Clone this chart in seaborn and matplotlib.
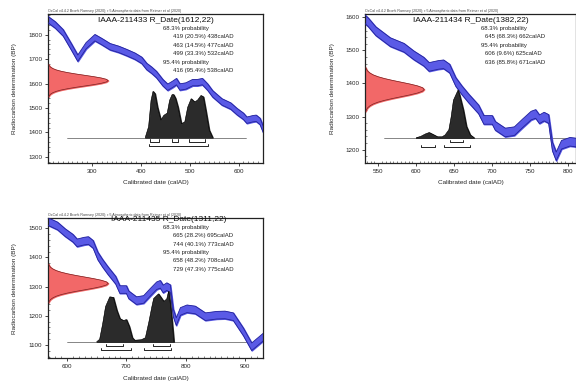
import numpy as np
import pandas as pd
import seaborn as sns
import matplotlib.pyplot as plt
from matplotlib.ticker import MultipleLocator

# calibration curve (calAD -> BP)
curve_year = [205, 210, 225, 241, 258, 271, 288, 306, 320, 337, 355, 371, 388, 402, 412, 422,
              432, 445, 455, 465, 473, 480, 492, 506, 516, 526, 537, 547, 566, 584, 597, 610,
              617, 629, 636, 644, 652, 660, 669, 682, 689, 700, 704, 717, 729, 740, 751, 757,
              762, 768, 774, 779, 784, 791, 802, 816, 833, 852, 866, 880, 897, 911, 935]
curve_bp = [1870, 1862, 1840, 1808, 1750, 1704, 1755, 1788, 1772, 1751, 1740, 1727, 1712, 1695,
            1670, 1655, 1637, 1604, 1585, 1597, 1608, 1586, 1590, 1604, 1604, 1608, 1585, 1558,
            1525, 1508, 1485, 1466, 1450, 1456, 1458, 1445, 1405, 1380, 1355, 1322, 1290, 1290,
            1272, 1252, 1256, 1280, 1303, 1308, 1292, 1300, 1293, 1210, 1180, 1215, 1224, 1220,
            1197, 1202, 1203, 1197, 1145, 1094, 1135]
curve_err = [13] * len(curve_year)

lab_codes = ['IAAA-211433', 'IAAA-211434', 'IAAA-211435']
c14_age = [1612, 1382, 1311]
c14_err = [22, 22, 22]

# measurement shape: relative height at steps of one sigma / 4
sigma_step = [-3, -2.75, -2.5, -2.25, -2, -1.75, -1.5, -1.25, -1, -0.75, -0.5, -0.25,
              0, 0.25, 0.5, 0.75, 1, 1.25, 1.5, 1.75, 2, 2.25, 2.5, 2.75, 3]
sigma_height = [0.011, 0.023, 0.044, 0.080, 0.135, 0.216, 0.325, 0.458, 0.607, 0.755,
                0.882, 0.969, 1.0, 0.969, 0.882, 0.755, 0.607, 0.458, 0.325, 0.216, 0.135, 0.080,
                0.044, 0.023, 0.011]

# calibrated (posterior) distributions, relative probability
post1_year = [409, 416, 421, 425, 429, 434, 441, 447, 454, 459, 464, 467, 471, 476, 483,
              490, 496, 503, 510, 516, 523, 528, 533, 540, 547]
post1_prob = [0, 0.24, 0.81, 1.0, 0.95, 0.66, 0.38, 0.48, 0.53, 0.81, 0.93, 0.93, 0.85, 0.66, 0.30,
              0.34, 0.66, 0.84, 0.77, 0.81, 0.91, 0.88, 0.59, 0.16, 0]
post2_year = [600, 606, 612, 617, 622, 628, 634, 638, 643, 646, 649, 655, 657, 662, 666, 671, 676]
post2_prob = [0, 0.03, 0.08, 0.11, 0.07, 0.02, 0.02, 0.06, 0.17, 0.44, 0.79, 1.0, 0.90, 0.58, 0.24,
              0.06, 0]
post3_year = [650, 655, 660, 665, 672, 678, 684, 689, 695, 700, 705, 710, 714, 725, 732, 738,
              743, 746, 754, 763, 768, 771, 774, 777, 780]
post3_prob = [0, 0.05, 0.35, 0.70, 0.89, 0.88, 0.62, 0.46, 0.42, 0.44, 0.30, 0.08, 0.03, 0.04, 0.08,
              0.40, 0.70, 0.86, 0.95, 0.80, 0.85, 1.0, 0.75, 0.40, 0]

ranges68 = [[(419, 20.5, 438), (463, 14.5, 477), (499, 33.3, 532)],
            [(645, 68.3, 662)],
            [(665, 28.2, 695), (744, 40.1, 773)]]
ranges95 = [[(416, 95.4, 538)],
            [(606, 9.6, 625), (636, 85.8, 671)],
            [(658, 48.2, 708), (729, 47.3, 775)]]
posteriors = [(post1_year, post1_prob), (post2_year, post2_prob), (post3_year, post3_prob)]

header = 'OxCal v4.4.2 Bronk Ramsey (2020); r:5 Atmospheric data from Reimer et al (2020)'

# layout per panel
panels = [
    dict(rect=[0.0833, 0.580, 0.3733, 0.384], xlim=(210, 650), ylim=(1275, 1885), xmaj=100, xmin=10,
         base=1379, line=(0.09, 0.92), hfrac=0.31, tx=0.50, ty=6.5, hx=0.535, rx=0.58, off0=14.5,
         step=8.5),
    dict(rect=[0.634, 0.580, 0.366, 0.384], xlim=(533, 810), ylim=(1160, 1610), xmaj=50, xmin=5,
         base=1236, line=(0.09, 1.0), hfrac=0.32, tx=0.50, ty=6.5, hx=0.55, rx=0.57, off0=14.5,
         step=8.5),
    dict(rect=[0.0833, 0.077, 0.3733, 0.361], xlim=(568, 930), ylim=(1055, 1535), xmaj=100, xmin=10,
         base=1111, line=(0.09, 0.99), hfrac=0.36, tx=0.56, ty=1.5, hx=0.535, rx=0.58, off0=9.5,
         step=8.3),
]

sns.set_style('white')
plt.rcParams['font.family'] = ['Liberation Sans', 'DejaVu Sans']

curve = pd.DataFrame({'year': curve_year, 'bp': curve_bp, 'err': curve_err})
curve['lo'] = curve['bp'] - curve['err']
curve['hi'] = curve['bp'] + curve['err']

fig = plt.figure(figsize=(5.76, 3.88), dpi=100)
px = 0.72  # points per pixel

for i, p in enumerate(panels):
    ax = fig.add_axes(p['rect'])
    ax.set_xlim(*p['xlim'])
    ax.set_ylim(*p['ylim'])
    x0, x1 = p['xlim']
    y0, y1 = p['ylim']

    # calibration curve band
    ax.fill_between(curve['year'], curve['lo'], curve['hi'], color='#5a5ae6', zorder=2)
    sns.lineplot(data=curve, x='year', y='lo', ax=ax, color='#23239a', lw=0.6, zorder=3)
    sns.lineplot(data=curve, x='year', y='hi', ax=ax, color='#23239a', lw=0.6, zorder=3)

    # measurement on the y axis
    bp = [c14_age[i] + s * c14_err[i] for s in sigma_step]
    w = 0.28 * (x1 - x0)
    xs = [x0 + w * h for h in sigma_height]
    ax.fill_betweenx(bp, x0, xs, color='#f26868', zorder=2)
    ax.plot(xs, bp, color='#7a2020', lw=0.5, zorder=3)

    # baseline and posterior
    ax.axhline(p['base'], xmin=p['line'][0], xmax=p['line'][1], color='#555555', lw=0.5, zorder=1)
    yr, pr = posteriors[i]
    hh = p['hfrac'] * (y1 - y0)
    top = [p['base'] + hh * v for v in pr]
    ax.fill_between(yr, p['base'], top, color='#2b2b2b', zorder=4)
    ax.plot(yr, top, color='black', lw=0.4, zorder=4)

    # range brackets
    tick = 0.014 * (y1 - y0)
    for rng, frac in ((ranges68[i], 0.027), (ranges95[i], 0.06)):
        yb = p['base'] - frac * (y1 - y0)
        for a, _, b in rng:
            ax.plot([a, a, b, b], [yb + tick, yb, yb, yb + tick], color='black', lw=0.6, zorder=4)

    # texts
    ax.annotate(f'{lab_codes[i]} R_Date({c14_age[i]},{c14_err[i]})', (p['tx'], 1.0),
                xycoords='axes fraction', xytext=(0, -p['ty'] * px), textcoords='offset points',
                ha='center', va='center', fontsize=6.0, color='#111111', zorder=6)
    lines = [('68.3% probability', p['hx'])]
    lines += [(f'{a} ({pc}%) {b}calAD', p['rx']) for a, pc, b in ranges68[i]]
    lines += [('95.4% probability', p['hx'])]
    lines += [(f'{a} ({pc}%) {b}calAD', p['rx']) for a, pc, b in ranges95[i]]
    for k, (t, xx) in enumerate(lines):
        ax.annotate(t, (xx, 1.0), xycoords='axes fraction', xytext=(0, -(p['off0'] + k * p['step']) * px),
                    textcoords='offset points', ha='left', va='center', fontsize=4.3, color='#222222',
                    zorder=6)
    ax.text(0.0, 1.005, header, transform=ax.transAxes, ha='left', va='bottom', fontsize=2.6,
            color='#444444')

    ax.xaxis.set_major_locator(MultipleLocator(p['xmaj']))
    ax.xaxis.set_minor_locator(MultipleLocator(p['xmin']))
    ax.yaxis.set_major_locator(MultipleLocator(100))
    ax.yaxis.set_minor_locator(MultipleLocator(20))
    ax.tick_params(which='major', direction='out', length=2.5, width=0.6, labelsize=4.5, pad=1.5)
    ax.tick_params(which='minor', direction='in', length=1.5, width=0.4)
    ax.tick_params(bottom=True, left=True, which='both')
    for s in ax.spines.values():
        s.set_linewidth(0.9)
        s.set_color('#222222')
    ax.set_xlabel('Calibrated date (calAD)', fontsize=4.6, labelpad=5)
    ax.set_ylabel('Radiocarbon determination (BP)', fontsize=4.6, labelpad=8)

plt.savefig('out.png', dpi=100)
